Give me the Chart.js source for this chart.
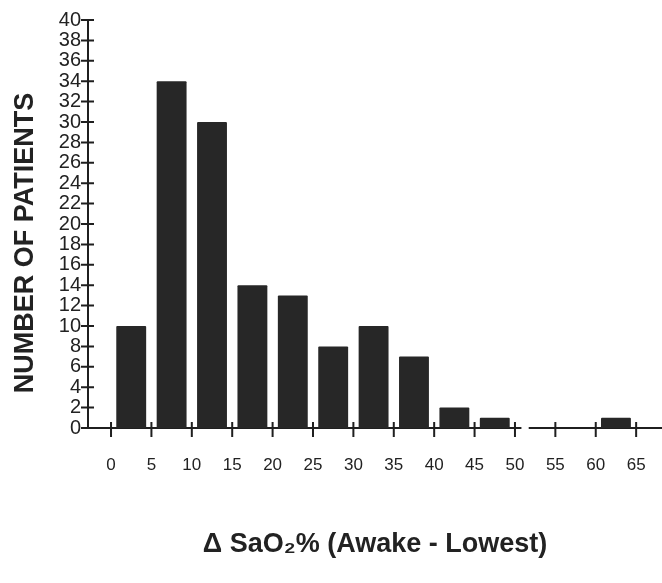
<!DOCTYPE html>
<html>
<head>
<meta charset="utf-8">
<script src="https://cdn.jsdelivr.net/npm/chart.js@4/dist/chart.umd.min.js"></script>
<style>
  body { margin: 0; background: #fff; }
  canvas { display: block; }
</style>
</head>
<body>
<canvas id="histChart" width="662" height="583"></canvas>
<script>
// Histogram bins (left edge of each 5% bin) and patient counts
const binStarts = [0, 5, 10, 15, 20, 25, 30, 35, 40, 45, 50, 55, 60];
const patientCounts = [10, 34, 30, 14, 13, 8, 10, 7, 2, 1, 0, 0, 1];
const xTickValues = [0, 5, 10, 15, 20, 25, 30, 35, 40, 45, 50, 55, 60, 65];
const yTickValues = [0, 2, 4, 6, 8, 10, 12, 14, 16, 18, 20, 22, 24, 26, 28, 30, 32, 34, 36, 38, 40];

const ink = "#1f1f1f";
const fontFamily = "'Liberation Sans', Arial, sans-serif";

// ticks in the scan cross the axis line, so draw them on both sides
const crossTicks = {
  id: "crossTicks",
  afterDraw(chart) {
    const ctx = chart.ctx;
    const xs = chart.scales.x;
    const ys = chart.scales.y;
    const axisY = ys.getPixelForValue(0);
    const axisX = chart.chartArea.left;
    ctx.save();

    // the original axis line has a small break just after 50
    ctx.fillStyle = "#fff";
    const gapStart = xs.getPixelForValue(50.8);
    const gapEnd = xs.getPixelForValue(51.7);
    ctx.fillRect(gapStart, axisY - 2, gapEnd - gapStart, 4);

    ctx.strokeStyle = ink;
    ctx.lineWidth = 2;
    ctx.beginPath();
    xTickValues.forEach((v) => {
      const px = xs.getPixelForValue(v);
      ctx.moveTo(px, axisY - 6);
      ctx.lineTo(px, axisY + 9);
    });
    yTickValues.forEach((v) => {
      const py = ys.getPixelForValue(v);
      ctx.moveTo(axisX - 7, py);
      ctx.lineTo(axisX + 6, py);
    });
    ctx.stroke();

    // y axis title, sits a bit lower than the axis centre in the scan
    ctx.fillStyle = "#222";
    ctx.font = "bold 27px " + fontFamily;
    ctx.textAlign = "center";
    ctx.textBaseline = "middle";
    ctx.translate(26, 243);
    ctx.rotate(-Math.PI / 2);
    ctx.fillText("NUMBER OF PATIENTS", 0, 0);
    ctx.restore();
  },
};

const ctx = document.getElementById("histChart").getContext("2d");
const histChart = new Chart(ctx, {
  type: "bar",
  data: {
    datasets: [
      {
        label: "Patients",
        data: binStarts.map((b, i) => ({ x: b + 2.5, y: patientCounts[i] })),
        backgroundColor: "#272727",
        borderRadius: 1,
        barPercentage: 0.74,
        categoryPercentage: 1,
      },
    ],
  },
  options: {
    responsive: false,
    animation: false,
    devicePixelRatio: 1,
    layout: { padding: { top: 20, right: 0, bottom: 0, left: 0 } },
    plugins: {
      legend: { display: false },
      tooltip: { enabled: false },
    },
    scales: {
      x: {
        type: "linear",
        offset: false,
        min: -2.85,
        max: 68.2,
        afterBuildTicks: (scale) => {
          scale.ticks = xTickValues.map((v) => ({ value: v }));
        },
        afterFit: (scale) => {
          scale.height = 155;
          scale.paddingLeft = 0;
          scale.paddingRight = 0;
        },
        grid: { display: false, drawTicks: false },
        border: { display: true, color: ink, width: 2 },
        ticks: {
          color: "#222",
          padding: 27,
          autoSkip: false,
          maxRotation: 0,
          font: { family: fontFamily, size: 17 },
        },
        title: {
          display: true,
          text: "\u0394 SaO\u2082% (Awake - Lowest)",
          color: "#222",
          padding: { top: 0, bottom: 22 },
          font: { family: fontFamily, size: 27, weight: "bold" },
        },
      },
      y: {
        min: 0,
        max: 40,
        afterBuildTicks: (scale) => {
          scale.ticks = yTickValues.map((v) => ({ value: v }));
        },
        afterFit: (scale) => {
          scale.width = 88;
        },
        grid: { display: false, drawTicks: false },
        border: { display: true, color: ink, width: 2 },
        ticks: {
          color: "#222",
          padding: 7,
          autoSkip: false,
          font: { family: fontFamily, size: 20 },
        },
      },
    },
  },
  plugins: [crossTicks],
});
</script>
</body>
</html>
